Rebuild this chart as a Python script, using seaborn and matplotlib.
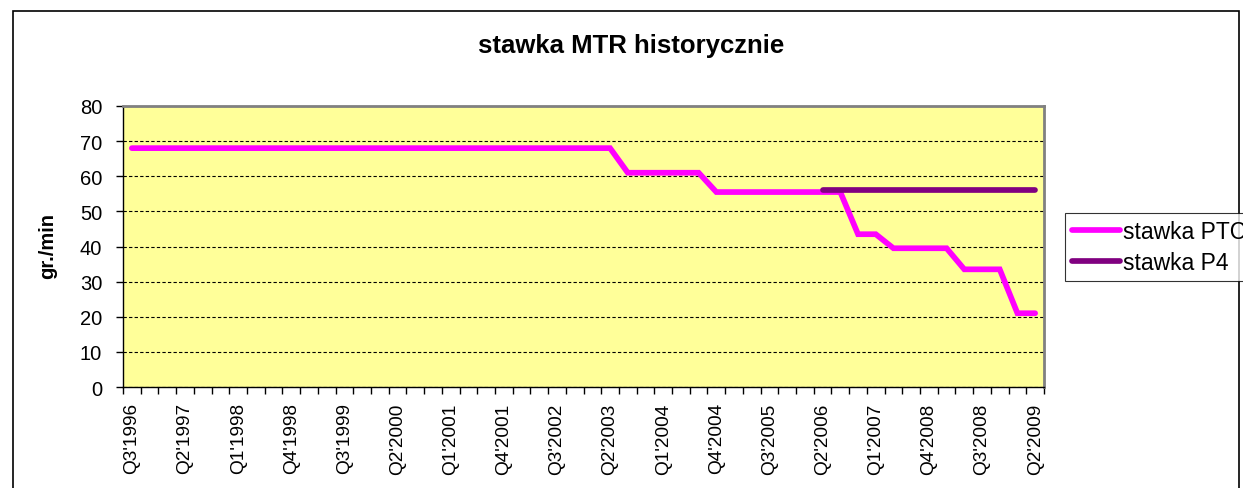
import numpy as np
import pandas as pd
import seaborn as sns
import matplotlib
matplotlib.use("Agg")
import matplotlib.pyplot as plt
from matplotlib.patches import Rectangle
from matplotlib.lines import Line2D

# ---------------- data ----------------
categories = [
    "Q3'1996", "Q4'1996", "Q1'1997", "Q2'1997", "Q3'1997", "Q4'1997",
    "Q1'1998", "Q2'1998", "Q3'1998", "Q4'1998", "Q1'1999", "Q2'1999",
    "Q3'1999", "Q4'1999", "Q1'2000", "Q2'2000", "Q3'2000", "Q4'2000",
    "Q1'2001", "Q2'2001", "Q3'2001", "Q4'2001", "Q1'2002", "Q2'2002",
    "Q3'2002", "Q4'2002", "Q1'2003", "Q2'2003", "Q3'2003", "Q4'2003",
    "Q1'2004", "Q2'2004", "Q3'2004", "Q4'2004", "Q1'2005", "Q2'2005",
    "Q3'2005", "Q4'2005", "Q1'2006", "Q2'2006", "Q3'2006", "Q4'2006",
    "Q1'2007", "Q2'2007", "Q3'2007", "Q4'2008", "Q1'2008", "Q2'2008",
    "Q3'2008", "Q4'2008", "Q1'2009", "Q2'2009",
]

stawka_ptc = [
    68, 68, 68, 68, 68, 68, 68, 68, 68, 68, 68, 68, 68, 68,
    68, 68, 68, 68, 68, 68, 68, 68, 68, 68, 68, 68, 68, 68,
    61, 61, 61, 61, 61,
    55.5, 55.5, 55.5, 55.5, 55.5, 55.5, 55.5, 55.5,
    43.5, 43.5,
    39.5, 39.5, 39.5, 39.5,
    33.5, 33.5, 33.5,
    21, 21,
]

N = np.nan
stawka_p4 = [
    N, N, N, N, N, N, N, N, N, N, N, N, N, N, N, N, N, N, N, N,
    N, N, N, N, N, N, N, N, N, N, N, N, N, N, N, N, N, N, N,
    56, 56, 56, 56, 56, 56, 56, 56, 56, 56, 56, 56, 56,
]

series_names = ["stawka PTC", "stawka P4"]
series_colors = ["#FF00FF", "#800080"]
title = "stawka MTR historycznie"
ylabel = "gr./min"
label_step = 3

# ---------------- build table ----------------
idx = np.arange(len(categories))
df = pd.concat([
    pd.DataFrame({"idx": idx, "value": stawka_ptc, "series": series_names[0]}),
    pd.DataFrame({"idx": idx, "value": stawka_p4, "series": series_names[1]}),
], ignore_index=True)

# ---------------- style ----------------
sns.set_theme(style="white")
plt.rcParams["font.family"] = ["Liberation Sans", "DejaVu Sans"]
plt.rcParams["text.color"] = "black"
plt.rcParams["axes.labelcolor"] = "black"
plt.rcParams["xtick.color"] = "black"
plt.rcParams["ytick.color"] = "black"

W, H = 1243, 489
fig = plt.figure(figsize=(W / 100, H / 100), dpi=100)
fig.patch.set_facecolor("white")

L, R, T, B = 123, 1044, 107, 388
ax = fig.add_axes([L / W, 1 - B / H, (R - L) / W, (B - T) / H])
ax.set_facecolor("#FFFF99")

sns.lineplot(
    data=df, x="idx", y="value", hue="series", hue_order=series_names,
    palette=dict(zip(series_names, series_colors)), linewidth=4.1,
    estimator=None, sort=False, legend=False, ax=ax,
)
for ln in ax.get_lines():
    ln.set_solid_capstyle("round")
    ln.set_solid_joinstyle("miter")

ax.set_xlim(-0.5, len(categories) - 0.5)
ax.set_ylim(0, 80)
ax.set_yticks(np.arange(0, 81, 10))

# x ticks: labels every 3rd category, tick marks at category boundaries
ax.set_xticks(idx[::label_step])
ax.set_xticklabels(categories[::label_step], rotation=90, fontsize=13.7,
                   color="black")
ax.set_xticks(np.arange(-0.5, len(categories), 1), minor=True)
ax.tick_params(axis="x", which="major", length=0, pad=11, colors="black")
ax.tick_params(axis="x", which="minor", length=5, width=1, direction="out",
               color="black", bottom=True)
ax.tick_params(axis="y", which="major", length=5, width=1, direction="out",
               pad=10, labelsize=14.5, colors="black", left=True)

ax.set_xlabel("")
ax.set_ylabel(ylabel, fontsize=14.5, fontweight="bold", color="black")
ax.yaxis.set_label_coords((57 - L) / (R - L), 0.505)

# grid
ax.set_axisbelow(True)
ax.yaxis.grid(True, linestyle=(0, (3, 2)), color="black", linewidth=0.8)
ax.xaxis.grid(False)

for side in ["top", "right"]:
    ax.spines[side].set_color("#808080")
    ax.spines[side].set_linewidth(2)
for side in ["left", "bottom"]:
    ax.spines[side].set_color("black")
    ax.spines[side].set_linewidth(1)

# title
fig.text(631 / W, 1 - 46 / H, title, ha="center", va="center",
         fontsize=18.5, fontweight="bold", color="black")

# outer chart border
fig.add_artist(Rectangle((13 / W, -0.05), (1239 - 13) / W, (H - 12) / H + 0.05,
                         transform=fig.transFigure, fill=False,
                         edgecolor="black", linewidth=1.2))

# legend
handles = [Line2D([0], [0], color=c, linewidth=4.1, solid_capstyle="round")
           for c in series_colors]
leg = fig.legend(handles, series_names, loc="upper left",
                 bbox_to_anchor=(1065 / W, 1 - 214 / H), fontsize=16.5,
                 frameon=True, fancybox=False, edgecolor="black",
                 handlelength=2.1, handletextpad=0.15, labelspacing=0.35,
                 borderpad=0.3, borderaxespad=0)
leg.get_frame().set_linewidth(0.8)
for t in leg.get_texts():
    t.set_color("black")

fig.savefig("out.png", dpi=100)
